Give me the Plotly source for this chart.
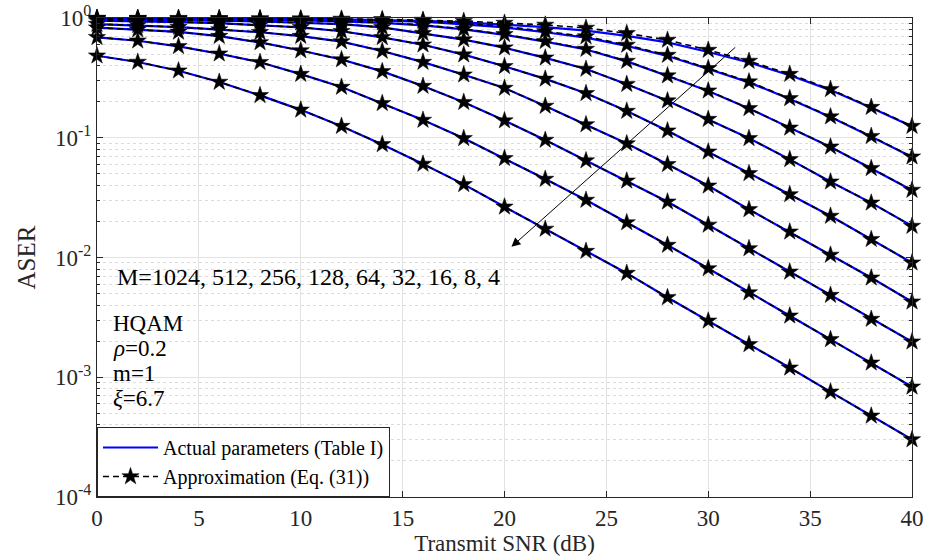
import plotly.graph_objects as go

# ---------------- data ----------------
snr_db = [0, 2, 4, 6, 8, 10, 12, 14, 16, 18, 20, 22, 24, 26, 28, 30, 32, 34, 36, 38, 40]

approx_m4 = [0.484, 0.429, 0.363, 0.292, 0.226, 0.171, 0.125, 0.088, 0.0604, 0.0408, 0.0265,
             0.0173, 0.0113, 0.0074, 0.00464, 0.00296, 0.00188, 0.0012, 0.000755, 0.000476, 0.000302]
approx_m8 = [0.69, 0.646, 0.58, 0.503, 0.427, 0.34, 0.265, 0.194, 0.1406, 0.0989, 0.0673,
             0.0452, 0.0302, 0.0196, 0.0127, 0.0081, 0.0051, 0.00326, 0.00207, 0.00132, 0.000832]
approx_m16 = [0.83, 0.80, 0.765, 0.705, 0.625, 0.535, 0.45, 0.358, 0.27, 0.198, 0.139,
              0.0957, 0.0645, 0.0437, 0.0292, 0.0187, 0.0119, 0.00759, 0.00485, 0.00306, 0.00198]
approx_m32 = [0.89, 0.87, 0.84, 0.80, 0.76, 0.705, 0.635, 0.53, 0.428, 0.336, 0.26,
              0.184, 0.129, 0.0894, 0.06, 0.0397, 0.0252, 0.0164, 0.0105, 0.00677, 0.00427]
approx_m64 = [0.95, 0.94, 0.925, 0.905, 0.875, 0.835, 0.775, 0.69, 0.598, 0.494, 0.395,
              0.31, 0.235, 0.167, 0.1145, 0.0764, 0.0504, 0.0336, 0.0222, 0.0142, 0.00904]
approx_m128 = [0.975, 0.97, 0.96, 0.95, 0.935, 0.915, 0.89, 0.835, 0.745, 0.66, 0.565,
               0.465, 0.375, 0.28, 0.204, 0.143, 0.0989, 0.066, 0.0429, 0.0286, 0.0183]
approx_m256 = [0.99, 0.985, 0.98, 0.975, 0.965, 0.955, 0.94, 0.915, 0.875, 0.81, 0.73,
               0.64, 0.55, 0.437, 0.33, 0.247, 0.176, 0.121, 0.084, 0.0555, 0.0366]
approx_m512 = [0.995, 0.993, 0.99, 0.987, 0.982, 0.976, 0.967, 0.955, 0.94, 0.9, 0.85,
               0.775, 0.70, 0.595, 0.49, 0.38, 0.294, 0.213, 0.15, 0.103, 0.0694]
approx_m1024 = [0.998, 0.997, 0.996, 0.994, 0.991, 0.987, 0.982, 0.975, 0.962, 0.94, 0.908,
                0.875, 0.825, 0.745, 0.655, 0.54, 0.437, 0.34, 0.254, 0.18, 0.125]

actual_m4 = approx_m4
actual_m8 = approx_m8
actual_m16 = approx_m16
actual_m32 = approx_m32
actual_m64 = approx_m64
actual_m128 = approx_m128
actual_m256 = [0.99, 0.985, 0.98, 0.974, 0.964, 0.953, 0.937, 0.91, 0.868, 0.803, 0.724,
               0.635, 0.546, 0.434, 0.328, 0.246, 0.1755, 0.1207, 0.0838, 0.0554, 0.0365]
actual_m512 = [0.995, 0.993, 0.99, 0.986, 0.98, 0.973, 0.962, 0.948, 0.93, 0.885, 0.835,
               0.76, 0.685, 0.585, 0.482, 0.375, 0.29, 0.211, 0.149, 0.102, 0.069]
actual_m1024 = [0.998, 0.997, 0.995, 0.993, 0.989, 0.984, 0.976, 0.965, 0.948, 0.92, 0.88,
                0.84, 0.785, 0.71, 0.625, 0.52, 0.425, 0.333, 0.25, 0.178, 0.124]

actual_series = [actual_m1024, actual_m512, actual_m256, actual_m128, actual_m64,
                 actual_m32, actual_m16, actual_m8, actual_m4]
approx_series = [approx_m1024, approx_m512, approx_m256, approx_m128, approx_m64,
                 approx_m32, approx_m16, approx_m8, approx_m4]

y_tick_vals = [1e-4, 1e-3, 1e-2, 1e-1, 1]
y_tick_text = ["10<sup>-4</sup>", "10<sup>-3</sup>", "10<sup>-2</sup>", "10<sup>-1</sup>", "10<sup>0</sup>"]
x_tick_vals = [0, 5, 10, 15, 20, 25, 30, 35, 40]

FONT = "Liberation Serif, Times New Roman, serif"
TXT = "#262626"

fig = go.Figure()

for i, ys in enumerate(actual_series):
    fig.add_trace(go.Scatter(
        x=snr_db, y=ys, mode="lines",
        line=dict(color="#0000ff", width=2.2),
        name="Actual parameters (Table I)",
        showlegend=(i == 0), legendrank=1,
    ))

for i, ys in enumerate(approx_series):
    fig.add_trace(go.Scatter(
        x=snr_db, y=ys, mode="lines+markers",
        line=dict(color="black", width=1.6, dash="6px,4px"),
        marker=dict(symbol="star", size=13, color="black",
                    line=dict(color="black", width=0.5)),
        name="Approximation (Eq. (31))",
        showlegend=(i == 0), legendrank=2,
        cliponaxis=False,
    ))

axis_common = dict(
    showline=True, linecolor=TXT, linewidth=1, mirror="ticks",
    ticks="inside", ticklen=6, tickcolor=TXT,
    showgrid=True, gridcolor="#e3e3e3", gridwidth=1,
    zeroline=False, automargin=False,
    tickfont=dict(family=FONT, size=23, color=TXT),
)

fig.update_xaxes(
    range=[0, 40], tickvals=x_tick_vals,
    title=dict(text="Transmit SNR (dB)", font=dict(family=FONT, size=23, color=TXT),
               standoff=3),
    **axis_common,
)
fig.update_yaxes(
    type="log", range=[-4, 0], tickvals=y_tick_vals, ticktext=y_tick_text,
    title=dict(text="ASER", font=dict(family=FONT, size=25, color=TXT), standoff=12),
    minor=dict(ticks="inside", ticklen=3, tickcolor=TXT, dtick="D1",
               showgrid=True, gridcolor="#dcdcdc", griddash="dot", gridwidth=1),
    **axis_common,
)

# Annotations
fig.add_annotation(x=0.9, y=-2.164, xref="x", yref="y", text="M=1024, 512, 256, 128, 64, 32, 16, 8, 4",
                   showarrow=False, xanchor="left", yanchor="middle",
                   font=dict(family=FONT, size=24, color="black"))
param_lines = ["HQAM", "<i>ρ</i>=0.2", "m=1", "<i>ξ</i>=6.7"]
param_rows = [323, 348, 373, 398]
for txt, py in zip(param_lines, param_rows):
    fig.add_annotation(x=0.7, y=-(py - 18) / 119.7, xref="x", yref="y", text=txt,
                       showarrow=False, xanchor="left", yanchor="middle",
                       font=dict(family=FONT, size=23, color="black"))

fig.add_annotation(x=20.34, y=-1.911, ax=31.4, ay=-0.234,
                   xref="x", yref="y", axref="x", ayref="y",
                   text="", showarrow=True, arrowhead=2, arrowsize=1.8,
                   arrowwidth=1, arrowcolor="black")

fig.update_layout(
    width=925, height=556,
    margin=dict(l=97, r=13, t=18, b=59),
    paper_bgcolor="white", plot_bgcolor="white",
    font=dict(family=FONT, color="black"),
    legend=dict(x=0, y=0, xanchor="left", yanchor="bottom",
                bgcolor="white", bordercolor=TXT, borderwidth=1,
                font=dict(family=FONT, size=20, color="black"),
                tracegroupgap=0, itemwidth=55),
    showlegend=True,
)

fig.write_html("out.html")
